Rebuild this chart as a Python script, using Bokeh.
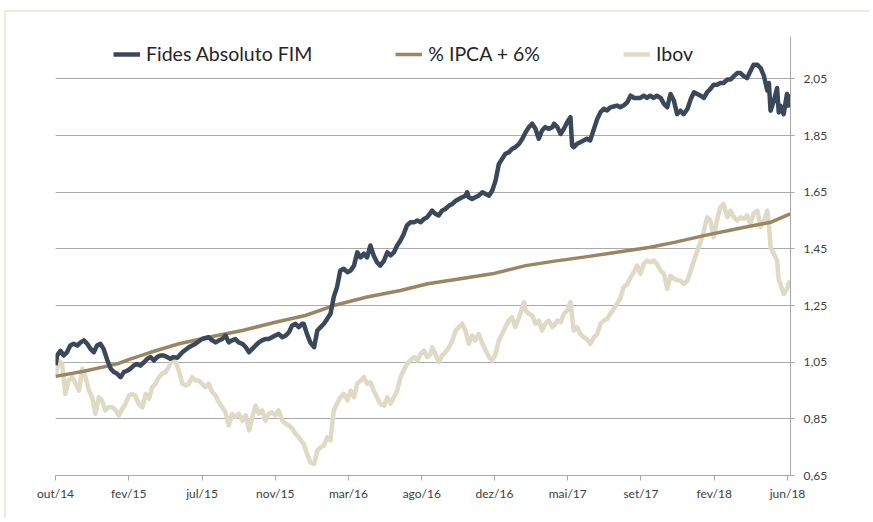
from bokeh.plotting import figure
from bokeh.models import FixedTicker, CustomJSTickFormatter, Legend, LegendItem, Range1d
from bokeh.embed import file_html
from bokeh.resources import INLINE

# x values are days since 01/out/2014
fides_day = [0, 3, 9, 15, 21, 27, 33, 40, 46, 52, 58, 64, 70, 76, 82, 88, 95, 101, 107, 113,
             119, 125, 131, 137, 143, 149, 155, 162, 168, 174, 180, 186, 192, 198, 204, 210, 216, 223,
             232, 244, 256, 268, 280, 287, 293, 299, 305, 311, 317, 323, 329, 335, 342, 348, 354, 360,
             366, 372, 378, 384, 390, 396, 402, 408, 415, 421, 427, 433, 439, 445, 451, 454, 460, 466,
             473, 479, 485, 491, 497, 503, 509, 515, 521, 527, 534, 540, 546, 552, 558, 564, 570, 576,
             582, 588, 594, 601, 607, 613, 619, 625, 631, 637, 643, 649, 656, 662, 668, 674, 680, 689,
             695, 701, 707, 713, 720, 726, 732, 738, 744, 750, 753, 756, 762, 768, 774, 781, 787, 793,
             799, 805, 811, 817, 823, 829, 835, 841, 848, 854, 860, 866, 872, 878, 884, 890, 896, 902,
             909, 912, 918, 924, 930, 936, 942, 945, 948, 954, 960, 966, 972, 978, 985, 991, 997, 1003,
             1009, 1015, 1021, 1027, 1033, 1039, 1046, 1052, 1058, 1064, 1070, 1076, 1082, 1088, 1094,
             1100, 1107, 1113, 1119, 1125, 1131, 1137, 1143, 1149, 1156, 1162, 1168, 1174, 1180, 1186,
             1192, 1198, 1204, 1210, 1216, 1222, 1229, 1235, 1241, 1247, 1253, 1259, 1265, 1271, 1277,
             1284, 1290, 1296, 1302, 1305, 1308, 1314, 1320, 1323, 1326, 1332, 1338, 1341, 1344]
fides_val = [1.04, 1.074, 1.09, 1.074, 1.085, 1.109, 1.115, 1.109, 1.12, 1.127, 1.115, 1.097, 1.085,
             1.109, 1.115, 1.097, 1.056, 1.027, 1.015, 1.009, 0.997, 1.015, 1.02, 1.027, 1.038, 1.044,
             1.038, 1.05, 1.062, 1.068, 1.056, 1.068, 1.074, 1.074, 1.068, 1.062, 1.068, 1.066,
             1.085, 1.103, 1.115, 1.132, 1.138, 1.127, 1.12, 1.127, 1.132, 1.144, 1.12, 1.127, 1.132,
             1.12, 1.115, 1.103, 1.085, 1.097, 1.109, 1.12, 1.127, 1.132, 1.132, 1.138, 1.144, 1.15,
             1.138, 1.144, 1.156, 1.18, 1.186, 1.174, 1.186, 1.186, 1.15, 1.12, 1.103, 1.162, 1.174,
             1.186, 1.203, 1.221, 1.28, 1.315, 1.374, 1.38, 1.368, 1.374, 1.391, 1.438, 1.42, 1.433,
             1.42, 1.462, 1.427, 1.403, 1.391, 1.409, 1.438, 1.427, 1.438, 1.462, 1.48, 1.503, 1.533,
             1.544, 1.544, 1.55, 1.544, 1.556, 1.562, 1.585, 1.574, 1.568, 1.585, 1.591, 1.603, 1.609,
             1.62, 1.626, 1.632, 1.638, 1.65, 1.632, 1.626, 1.632, 1.638, 1.65, 1.644, 1.638, 1.656,
             1.691, 1.75, 1.768, 1.786, 1.791, 1.803, 1.809, 1.821, 1.839, 1.862, 1.88, 1.892, 1.874,
             1.839, 1.868, 1.88, 1.874, 1.88, 1.892, 1.88, 1.856, 1.874, 1.897, 1.915, 1.815, 1.809,
             1.821, 1.827, 1.833, 1.839, 1.833, 1.874, 1.909, 1.933, 1.945, 1.939, 1.95, 1.953, 1.956,
             1.95, 1.956, 1.968, 1.991, 1.983, 1.983, 1.983, 1.991, 1.983, 1.991, 1.983, 1.991, 1.983,
             1.962, 1.95, 1.997, 1.975, 1.926, 1.938, 1.926, 1.944, 1.979, 2.003, 1.997, 1.991, 1.983,
             2.003, 2.015, 2.03, 2.03, 2.036, 2.036, 2.048, 2.048, 2.06, 2.071, 2.071, 2.06, 2.053,
             2.077, 2.1, 2.1, 2.088, 2.06, 2.009, 2.036, 1.938, 1.973, 2.018, 1.932, 1.956, 1.926,
             1.997, 1.956, 1.997]

ipca_day = [0, 52, 113, 135, 174, 226, 280, 342, 402, 457, 509, 570, 631, 681, 738, 799, 860, 910,
            966, 1027, 1088, 1134, 1186, 1247, 1308, 1344]
ipca_val = [1.0, 1.018, 1.044, 1.06, 1.085, 1.115, 1.138, 1.162, 1.191, 1.215, 1.25, 1.28, 1.303,
            1.327, 1.344, 1.362, 1.391, 1.406, 1.421, 1.438, 1.456, 1.474, 1.497, 1.521, 1.544, 1.574]

ibov_day = [0, 6, 12, 18, 24, 31, 37, 43, 49, 55, 61, 67, 73, 79, 85, 91, 97, 104, 110, 116, 122,
            128, 134, 140, 146, 152, 159, 165, 171, 177, 183, 189, 195, 201, 207, 213, 220, 226, 232,
            238, 244, 250, 256, 262, 268, 274, 280, 287, 293, 299, 305, 311, 317, 323, 329, 335, 342,
            348, 354, 360, 366, 372, 378, 384, 390, 396, 402, 408, 415, 421, 427, 433, 439, 445, 451,
            454, 460, 466, 473, 479, 485, 491, 497, 503, 509, 515, 521, 527, 534, 540, 546, 552, 558,
            564, 570, 576, 582, 588, 594, 601, 607, 613, 619, 625, 631, 637, 643, 649, 656, 662, 668,
            674, 680, 686, 689, 695, 701, 707, 713, 720, 726, 732, 738, 744, 750, 756, 762, 768, 774,
            781, 787, 793, 799, 805, 811, 817, 823, 829, 835, 841, 848, 854, 857, 860, 866, 872, 878,
            884, 890, 896, 902, 909, 912, 918, 924, 930, 936, 942, 948, 954, 960, 966, 972, 978, 985,
            991, 997, 1003, 1009, 1015, 1021, 1027, 1033, 1039, 1046, 1052, 1058, 1064, 1070, 1076,
            1082, 1088, 1094, 1100, 1107, 1113, 1119, 1125, 1131, 1137, 1143, 1149, 1156, 1162, 1168,
            1174, 1180, 1186, 1192, 1198, 1204, 1210, 1216, 1222, 1229, 1235, 1241, 1247, 1253, 1259,
            1265, 1271, 1277, 1284, 1290, 1296, 1302, 1305, 1308, 1314, 1320, 1323, 1326, 1332, 1338,
            1341, 1344]
ibov_val = [1.0, 1.056, 1.044, 0.938, 0.985, 0.997, 0.974, 0.95, 1.027, 0.997, 0.95, 0.926, 0.868,
            0.926, 0.915, 0.88, 0.891, 0.891, 0.88, 0.862, 0.885, 0.903, 0.932, 0.938, 0.932, 0.903,
            0.891, 0.938, 0.921, 0.962, 0.974, 0.997, 1.009, 1.015, 1.032, 1.056, 1.05, 1.018, 0.974,
            0.968, 0.974, 0.997, 0.985, 0.985, 0.974, 0.962, 0.974, 0.944, 0.932, 0.909, 0.891, 0.873,
            0.827, 0.868, 0.856, 0.868, 0.844, 0.862, 0.809, 0.856, 0.897, 0.868, 0.88, 0.844, 0.868,
            0.873, 0.862, 0.88, 0.844, 0.832, 0.827, 0.815, 0.797, 0.785, 0.768, 0.762, 0.727, 0.697,
            0.691, 0.738, 0.75, 0.756, 0.785, 0.774, 0.88, 0.903, 0.926, 0.938, 0.915, 0.95, 0.926,
            0.974, 0.985, 0.997, 0.974, 0.979, 0.95, 0.926, 0.903, 0.897, 0.926, 0.903, 0.926, 0.95,
            0.997, 1.021, 1.044, 1.056, 1.068, 1.056, 1.079, 1.091, 1.068, 1.079, 1.103, 1.079, 1.05,
            1.074, 1.085, 1.103, 1.127, 1.162, 1.174, 1.186, 1.162, 1.115, 1.144, 1.127, 1.15, 1.115,
            1.091, 1.068, 1.056, 1.079, 1.127, 1.15, 1.174, 1.197, 1.209, 1.174, 1.209, 1.244, 1.262,
            1.232, 1.221, 1.215, 1.186, 1.197, 1.162, 1.186, 1.197, 1.174, 1.18, 1.197, 1.191, 1.221,
            1.232, 1.262, 1.162, 1.174, 1.15, 1.138, 1.132, 1.115, 1.138, 1.15, 1.186, 1.197, 1.203,
            1.221, 1.238, 1.256, 1.274, 1.315, 1.326, 1.35, 1.368, 1.391, 1.362, 1.397, 1.409, 1.403,
            1.409, 1.397, 1.374, 1.362, 1.309, 1.355, 1.345, 1.34, 1.338, 1.326, 1.338, 1.374, 1.409,
            1.444, 1.474, 1.515, 1.562, 1.55, 1.491, 1.55, 1.597, 1.609, 1.562, 1.585, 1.562, 1.55,
            1.562, 1.556, 1.568, 1.538, 1.574, 1.585, 1.527, 1.55, 1.585, 1.538, 1.456, 1.433, 1.409,
            1.338, 1.326, 1.291, 1.309, 1.326, 1.338]

x_tick_labels = ["out/14", "fev/15", "jul/15", "nov/15", "mar/16", "ago/16", "dez/16",
                 "mai/17", "set/17", "fev/18", "jun/18"]
x_tick_days = [0, 134, 268, 402, 536, 670, 803, 937, 1071, 1205, 1339]
y_ticks = [0.65, 0.85, 1.05, 1.25, 1.45, 1.65, 1.85, 2.05]

FONT = "Lato"
BORDER = "#EDEAE0"

p = figure(width=865, height=508, x_range=Range1d(0, 1344.5), y_range=Range1d(0.65, 2.2),
           output_backend="svg", toolbar_location=None, y_axis_location="right",
           min_border_left=49, min_border_right=81, min_border_top=24, min_border_bottom=45)
p.styles = {"border-top": "2px solid " + BORDER, "border-left": "2px solid " + BORDER,
            "margin-left": "4px", "margin-top": "10px"}
p.outline_line_color = None
p.background_fill_color = "white"
p.border_fill_color = "white"

r_ibov = p.line(ibov_day, ibov_val, line_color="#DFDAC5", line_width=4.5, line_join="round")
r_ipca = p.line(ipca_day, ipca_val, line_color="#9B8663", line_width=3.5, line_join="round")
r_fides = p.line(fides_day, fides_val, line_color="#3A4859", line_width=4.5, line_join="round")

# axes
xa = p.xaxis[0]
xa.ticker = FixedTicker(ticks=x_tick_days)
xa.formatter = CustomJSTickFormatter(args=dict(days=x_tick_days, labels=x_tick_labels), code="""
    const i = days.indexOf(Math.round(tick));
    return i >= 0 ? labels[i] : '';
""")
xa.axis_line_color = "#A6A6A6"
xa.major_tick_line_color = "#A6A6A6"
xa.major_tick_in = 0
xa.major_tick_out = 5
xa.minor_tick_line_color = None
xa.major_label_text_font = FONT
xa.major_label_text_font_size = "12px"
xa.major_label_text_color = "#404040"
xa.major_label_standoff = 5

ya = p.yaxis[0]
ya.ticker = FixedTicker(ticks=y_ticks)
ya.formatter = CustomJSTickFormatter(code="return tick.toFixed(2).replace('.', ',');")
ya.axis_line_color = "#A6A6A6"
ya.major_tick_line_color = "#A6A6A6"
ya.major_tick_in = 0
ya.major_tick_out = 4
ya.minor_tick_line_color = None
ya.major_label_text_font = FONT
ya.major_label_text_font_size = "12px"
ya.major_label_text_color = "#404040"
ya.major_label_standoff = 9

p.xgrid.grid_line_color = None
p.ygrid.ticker = FixedTicker(ticks=y_ticks)
p.ygrid.grid_line_color = "#ABABAB"
p.ygrid.grid_line_width = 1

legend = Legend(items=[LegendItem(label="Fides Absoluto FIM", renderers=[r_fides]),
                       LegendItem(label="% IPCA + 6%", renderers=[r_ipca]),
                       LegendItem(label="Ibov", renderers=[r_ibov])],
                orientation="horizontal", location=(58, 410), spacing=83,
                glyph_width=27, glyph_height=20, label_standoff=6, padding=0, margin=0,
                label_text_font=FONT, label_text_font_size="19.5px", label_text_color="#262626",
                background_fill_alpha=0, border_line_color=None)
p.add_layout(legend, "center")

open("out.html", "w").write(file_html(p, INLINE))
